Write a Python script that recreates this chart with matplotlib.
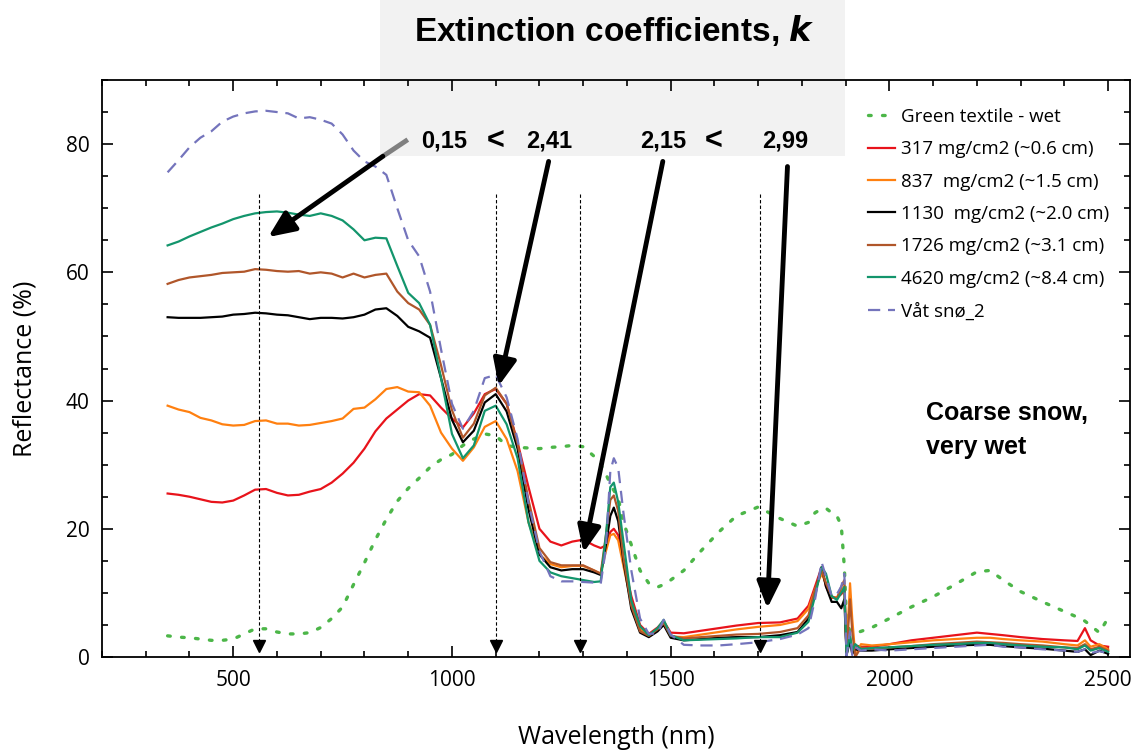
import matplotlib
matplotlib.use("Agg")
import matplotlib.pyplot as plt
from matplotlib.patches import Rectangle
from matplotlib.ticker import MultipleLocator
import numpy as np

# wavelength grid (nm), 8 rows of 11
wavelength = [350, 375, 400, 425, 450, 475, 500, 525, 550, 575, 600,
              625, 650, 675, 700, 725, 750, 775, 800, 825, 850, 875,
              900, 925, 950, 975, 1000, 1025, 1050, 1075, 1100, 1125, 1150,
              1175, 1200, 1225, 1250, 1275, 1300, 1325, 1340, 1352, 1362, 1370,
              1380, 1392, 1410, 1430, 1450, 1470, 1484, 1500, 1530, 1570, 1610,
              1650, 1700, 1750, 1790, 1815, 1830, 1845, 1855, 1868, 1880, 1890,
              1897, 1902, 1910, 1915, 1922, 1935, 1960, 2000, 2050, 2100, 2150,
              2200, 2230, 2260, 2300, 2350, 2400, 2430, 2447, 2460, 2480, 2500]

textile = [3.3, 3.1, 3.0, 2.8, 2.6, 2.6, 2.8, 3.6, 4.4, 4.4, 3.9,
           3.6, 3.6, 3.8, 4.6, 6.0, 7.8, 11.3, 14.7, 18.3, 21.5, 24.3,
           26.3, 27.9, 29.6, 30.8, 31.6, 33.0, 34.0, 34.8, 34.5, 33.0, 32.7,
           32.6, 32.5, 32.7, 32.8, 33.0, 32.8, 31.3, 30.0, 28.5, 27.0, 26.0,
           24.8, 21.0, 17.5, 13.5, 11.5, 10.9, 11.3, 12.0, 13.5, 16.6, 19.5,
           22.0, 23.4, 21.6, 20.4, 21.0, 22.5, 23.1, 23.2, 22.5, 22.0, 20.5,
           14.0, 5.5, 4.0, 3.8, 3.7, 4.0, 4.6, 6.0, 7.8, 9.4, 11.3,
           13.3, 13.5, 12.0, 10.2, 8.6, 7.1, 6.2, 5.6, 4.9, 3.8, 6.1]

snow_317 = [25.5, 25.3, 25.0, 24.6, 24.2, 24.1, 24.4, 25.2, 26.1, 26.2, 25.6,
            25.2, 25.3, 25.8, 26.2, 27.2, 28.6, 30.3, 32.5, 35.2, 37.2, 38.6,
            40.0, 41.0, 40.8, 38.9, 37.2, 35.8, 38.0, 41.0, 41.8, 39.5, 33.5,
            26.5, 20.0, 18.0, 17.4, 18.0, 18.3, 17.4, 17.0, 17.4, 19.5, 20.0,
            19.0, 15.0, 9.5, 5.0, 3.6, 4.6, 5.6, 3.8, 3.7, 4.1, 4.5,
            4.9, 5.3, 5.4, 6.0, 8.0, 11.0, 14.0, 11.0, 9.2, 9.3, 9.8,
            10.5, 0.5, 3.0, 0.8, 1.8, 1.6, 1.6, 2.0, 2.6, 3.0, 3.4,
            3.8, 3.6, 3.4, 3.1, 2.8, 2.6, 2.5, 4.5, 2.6, 1.8, 1.6]

snow_837 = [39.2, 38.6, 38.2, 37.3, 36.9, 36.3, 36.1, 36.2, 36.8, 36.9, 36.4,
            36.4, 36.1, 36.2, 36.5, 36.8, 37.2, 38.7, 38.9, 40.2, 41.8, 42.1,
            41.4, 41.3, 39.2, 35.0, 32.5, 30.6, 32.7, 35.9, 36.8, 34.0, 29.0,
            21.0, 16.0, 14.5, 14.0, 14.2, 14.2, 13.5, 13.0, 16.5, 19.0, 19.2,
            18.2, 14.2, 8.4, 4.4, 3.2, 4.2, 5.3, 3.2, 3.1, 3.5, 3.9,
            4.3, 4.7, 5.0, 5.6, 7.5, 10.5, 13.0, 11.5, 9.3, 9.3, 10.5,
            11.0, 1.0, 11.5, 6.0, 0.2, 2.0, 1.8, 2.0, 2.3, 2.6, 2.8,
            3.0, 3.0, 2.8, 2.6, 2.4, 2.0, 1.8, 2.6, 1.6, 2.0, 1.2]

snow_1130 = [53.0, 52.9, 52.9, 52.9, 53.0, 53.1, 53.4, 53.5, 53.7, 53.6, 53.4,
             53.3, 53.0, 52.7, 52.9, 52.9, 52.8, 53.0, 53.4, 54.2, 54.4, 53.2,
             51.5, 50.8, 49.8, 43.5, 37.0, 33.5, 35.3, 39.7, 41.0, 38.3, 32.5,
             23.0, 16.0, 14.0, 13.5, 13.7, 13.7, 13.2, 12.8, 17.5, 22.0, 23.3,
             21.2, 15.0, 7.5, 3.8, 3.1, 4.0, 5.0, 3.0, 2.6, 2.8, 3.0,
             3.1, 3.1, 3.4, 3.9, 6.0, 10.0, 14.0, 11.0, 8.6, 8.6, 7.6,
             9.0, 0.3, 2.5, 0.5, 1.2, 1.0, 1.0, 1.2, 1.4, 1.6, 1.8,
             1.9, 1.9, 1.7, 1.5, 1.3, 1.0, 0.8, 1.2, 0.3, 1.0, 0.5]

snow_1726 = [58.2, 58.8, 59.2, 59.4, 59.6, 59.9, 60.0, 60.1, 60.5, 60.4, 60.2,
             60.1, 60.2, 59.8, 60.0, 59.8, 59.2, 59.8, 59.2, 59.6, 59.8, 57.0,
             55.2, 54.2, 51.8, 45.5, 38.5, 34.2, 36.4, 40.8, 42.0, 39.5, 33.3,
             24.5, 17.0, 14.8, 14.3, 14.3, 14.3, 13.5, 13.0, 19.0, 24.5, 25.2,
             22.8, 15.5, 8.0, 4.0, 3.3, 4.3, 5.3, 3.3, 2.9, 3.1, 3.3,
             3.5, 3.6, 3.9, 4.5, 6.5, 10.5, 13.5, 11.5, 9.5, 9.0, 11.0,
             12.0, 0.5, 9.0, 4.0, 0.0, 1.5, 1.3, 1.5, 1.7, 2.0, 2.2,
             2.4, 2.3, 2.2, 2.0, 1.8, 1.5, 1.4, 2.0, 1.2, 1.6, 1.0]

snow_4620 = [64.2, 64.8, 65.6, 66.3, 67.0, 67.6, 68.3, 68.8, 69.2, 69.4, 69.5,
             69.3, 69.0, 68.8, 69.2, 68.8, 68.1, 66.7, 65.0, 65.4, 65.3, 61.0,
             56.8, 55.2, 51.8, 43.5, 34.8, 31.0, 33.0, 38.4, 39.2, 36.3, 31.0,
             21.0, 15.0, 13.2, 12.6, 12.3, 12.0, 11.7, 11.8, 19.0, 26.5, 27.2,
             24.2, 18.0, 8.8, 4.8, 3.4, 4.5, 5.8, 3.4, 2.6, 2.7, 2.8,
             2.9, 3.1, 3.1, 3.8, 5.5, 9.5, 14.0, 13.0, 9.5, 8.9, 10.0,
             10.9, 0.3, 3.5, 1.0, 2.0, 1.2, 1.4, 1.5, 1.7, 1.9, 2.0,
             2.2, 2.2, 2.0, 1.8, 1.6, 1.5, 1.2, 1.8, 1.0, 1.4, 0.8]

vaat_sno = [75.6, 77.5, 79.5, 81.0, 82.0, 83.5, 84.3, 84.8, 85.1, 85.2, 85.0,
            84.8, 84.0, 84.2, 83.8, 83.2, 81.5, 79.0, 77.3, 76.5, 75.2, 70.0,
            65.0, 62.5, 57.0, 48.0, 39.5, 35.6, 38.4, 43.5, 44.0, 40.5, 34.0,
            24.0, 16.5, 12.6, 11.8, 11.8, 11.7, 11.6, 11.4, 17.0, 29.0, 31.0,
            29.5, 22.5, 13.5, 6.0, 3.6, 3.7, 5.8, 3.5, 1.9, 1.8, 1.8,
            2.0, 2.3, 2.8, 3.5, 4.5, 9.0, 14.8, 12.5, 9.5, 9.8, 11.0,
            13.0, 0.2, 4.0, 0.3, 1.5, 1.0, 1.2, 1.0, 1.2, 1.4, 1.6,
            1.8, 1.9, 1.6, 1.5, 1.2, 1.0, 0.8, 1.2, 0.6, 0.9, 0.6]

labels = ["Green textile - wet", "317 mg/cm2 (~0.6 cm)", "837  mg/cm2 (~1.5 cm)",
          "1130  mg/cm2 (~2.0 cm)", "1726 mg/cm2 (~3.1 cm)", "4620 mg/cm2 (~8.4 cm)",
          "Våt snø_2"]

marker_wl = [560, 1100, 1293, 1705]


def main():
    plt.rcParams['font.family'] = ['Open Sans', 'DejaVu Sans']
    fig = plt.figure(figsize=(11.37, 7.52), dpi=100)
    W, H = 1137, 752

    # light gray box behind the title
    fig.patches.append(Rectangle((380 / W, 1 - 156 / H), 465 / W, 156 / H,
                                 transform=fig.transFigure, facecolor='#f2f2f2',
                                 edgecolor='none', zorder=0))

    ax = fig.add_axes([102 / W, 1 - 657 / H, 1028 / W, 577 / H])
    ax.set_facecolor('none')
    ax.set_zorder(1)

    ax.plot(wavelength, textile, color='#4cb648', lw=2.4, ls=(0, (0.8, 3.4)),
            dash_capstyle='round', label=labels[0])
    ax.plot(wavelength, snow_317, color='#e8131b', lw=1.6, label=labels[1])
    ax.plot(wavelength, snow_837, color='#ff8010', lw=1.6, label=labels[2])
    ax.plot(wavelength, snow_1130, color='black', lw=1.6, label=labels[3])
    ax.plot(wavelength, snow_1726, color='#b0562a', lw=1.6, label=labels[4])
    ax.plot(wavelength, snow_4620, color='#13956c', lw=1.6, label=labels[5])
    ax.plot(wavelength, vaat_sno, color='#7474bc', lw=1.6, ls=(0, (5.5, 3.5)),
            label=labels[6])

    # dashed markers down to the axis
    for wl in marker_wl:
        ax.plot([wl, wl], [72.2, 1.5], color='black', lw=0.8, ls=(0, (3, 2)))
        ax.plot(wl, 1.7, marker='v', color='black', markersize=8, clip_on=False)

    ax.set_xlim(200, 2550)
    ax.set_ylim(0, 90)
    ax.xaxis.set_major_locator(MultipleLocator(500))
    ax.xaxis.set_minor_locator(MultipleLocator(100))
    ax.yaxis.set_major_locator(MultipleLocator(20))
    ax.yaxis.set_minor_locator(MultipleLocator(5))
    ax.tick_params(which='both', direction='in', top=True, right=True,
                   labelsize=15, width=1.2)
    ax.tick_params(which='major', length=8, pad=9)
    ax.tick_params(which='minor', length=4)
    ax.set_xticks([500, 1000, 1500, 2000, 2500])
    ax.set_yticks([0, 20, 40, 60, 80])
    for s in ax.spines.values():
        s.set_linewidth(1.3)
    ax.set_xlabel('Wavelength (nm)', fontsize=18, labelpad=25)
    ax.set_ylabel('Reflectance (%)', fontsize=18, labelpad=20)

    ax.legend(loc='upper left', bbox_to_anchor=(0.745, 0.952),
              frameon=False, fontsize=13.5, handlelength=1.45,
              handletextpad=0.3, labelspacing=0.77, borderpad=0,
              borderaxespad=0)

    # big arrows
    arrow_kw = dict(arrowstyle='-|>,head_length=0.8,head_width=0.35',
                    lw=3.5, color='black', mutation_scale=20, shrinkA=0, shrinkB=0)
    ax.plot([899, 842], [80.7, 78.1], color='#808080', lw=3.5, solid_capstyle='butt')
    ax.annotate('', xy=(580, 65.5), xytext=(842, 78.1), arrowprops=arrow_kw)
    ax.annotate('', xy=(1107, 42.3), xytext=(1221, 77.3), arrowprops=arrow_kw)
    ax.annotate('', xy=(1301, 16.3), xytext=(1482, 77.3), arrowprops=arrow_kw)
    ax.annotate('', xy=(1721, 7.6), xytext=(1767, 76.5), arrowprops=arrow_kw)

    bold = dict(family=['Liberation Sans', 'DejaVu Sans'], fontweight='bold',
                ha='center', va='center')
    fig.text(614 / W, 1 - 30 / H, 'Extinction coefficients, $\\boldsymbol{k}$',
             fontsize=24, **bold)
    for x, s, fs, y in [(444, '0,15', 17, 141), (496, '<', 22, 142),
                        (549, '2,41', 17, 141), (663, '2,15', 17, 141),
                        (714, '<', 22, 142), (785, '2,99', 17, 141)]:
        fig.text(x / W, 1 - y / H, s, fontsize=fs, **bold)
    fig.text(926 / W, 1 - 413 / H, 'Coarse snow,', fontsize=18,
             family=['Liberation Sans', 'DejaVu Sans'], fontweight='bold',
             ha='left', va='center')
    fig.text(926 / W, 1 - 447 / H, 'very wet', fontsize=18,
             family=['Liberation Sans', 'DejaVu Sans'], fontweight='bold',
             ha='left', va='center')

    fig.savefig('out.png', dpi=100)


if __name__ == "__main__":
    main()
